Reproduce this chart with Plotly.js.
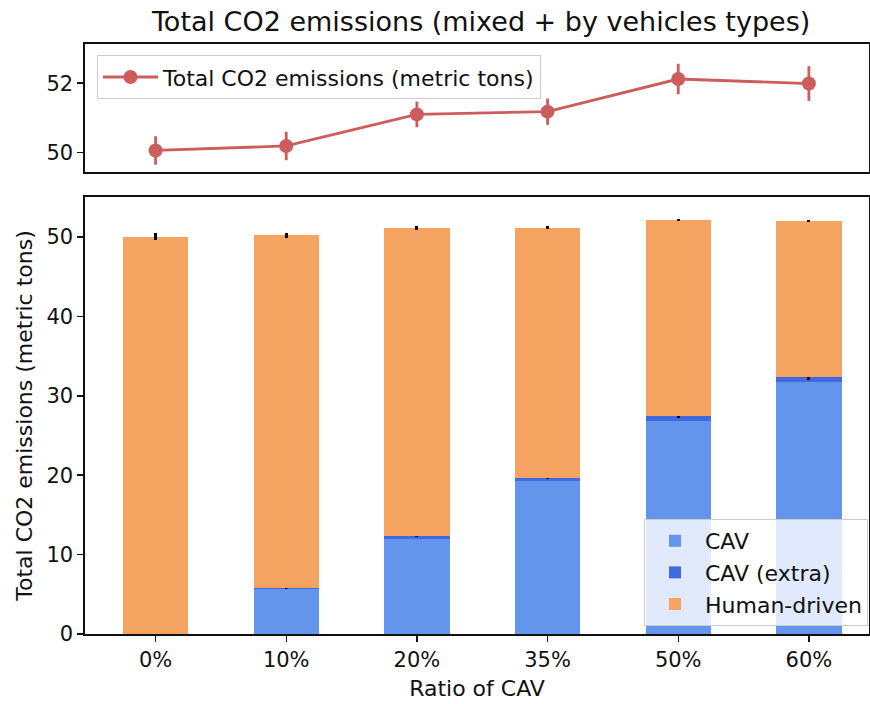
<!DOCTYPE html>
<html>
<head>
<meta charset="utf-8">
<script src="https://cdn.plot.ly/plotly-3.0.1.min.js"></script>
<style>html,body{margin:0;padding:0;background:#fff;}#chart{width:870px;height:704px;}</style>
</head>
<body>
<div id="chart"></div>
<script>
const categories = ["0%", "10%", "20%", "35%", "50%", "60%"];
const totalEmissions = [50.06, 50.19, 51.10, 51.18, 52.12, 51.99];
const totalErr = [0.41, 0.41, 0.37, 0.38, 0.44, 0.50];
const cavValues = [0, 5.72, 12.0, 19.3, 26.83, 31.74];
const cavExtraValues = [0, 0.06, 0.3, 0.34, 0.66, 0.59];
const cavErr = [0, 0.08, 0.12, 0.12, 0.3, 0.38];
const humanValues = [50.06, 44.41, 38.8, 31.54, 24.63, 19.66];
const humanErr = [0.4, 0.3, 0.25, 0.2, 0.15, 0.15];

const FONT = "DejaVu Sans, sans-serif";
const TXT = "#111111";

const traces = [
  {
    type: "scatter", mode: "lines+markers",
    x: categories, y: totalEmissions,
    xaxis: "x2", yaxis: "y2",
    name: "Total CO2 emissions (metric tons)",
    line: {color: "#CD5C5C", width: 2.8},
    marker: {color: "#CD5C5C", size: 14},
    error_y: {type: "data", array: totalErr, color: "#CD5C5C", thickness: 2.8, width: 0},
    legend: "legend"
  },
  {
    type: "bar", x: categories, y: cavValues, name: "CAV",
    marker: {color: "#6495ED"}, width: 0.5,
    xaxis: "x", yaxis: "y", legend: "legend2"
  },
  {
    type: "bar", x: categories, y: cavExtraValues, name: "CAV (extra)",
    marker: {color: "#4169E1"}, width: 0.5,
    error_y: {type: "data", array: cavErr, color: "black", thickness: 3, width: 0},
    xaxis: "x", yaxis: "y", legend: "legend2"
  },
  {
    type: "bar", x: categories, y: humanValues, name: "Human-driven",
    marker: {color: "#F4A460"}, width: 0.5,
    error_y: {type: "data", array: humanErr, color: "black", thickness: 3, width: 0},
    xaxis: "x", yaxis: "y", legend: "legend2"
  }
];

const axisCommon = {
  showline: true, mirror: true, linecolor: TXT, linewidth: 1.6,
  showgrid: false, zeroline: false,
  ticks: "outside", ticklen: 6, tickwidth: 1.4, tickcolor: TXT,
  tickfont: {family: FONT, size: 21, color: TXT}
};

const layout = {
  width: 870, height: 704,
  paper_bgcolor: "#fff", plot_bgcolor: "#fff",
  margin: {l: 85, r: 1, t: 44, b: 70},
  barmode: "stack",
  font: {family: FONT, color: TXT},
  title: {text: "Total CO2 emissions (mixed + by vehicles types)", font: {family: FONT, size: 27, color: TXT}, x: 0.553, xanchor: "center", y: 0.970, yanchor: "middle"},
  xaxis: Object.assign({}, axisCommon, {
    type: "category", range: [-0.54, 5.46], domain: [0, 1], anchor: "y",
    title: {text: "Ratio of CAV", font: {family: FONT, size: 22, color: TXT}, standoff: 10}
  }),
  yaxis: Object.assign({}, axisCommon, {
    domain: [0, 0.7407], range: [0, 55.04], dtick: 10, anchor: "x",
    title: {text: "Total CO2 emissions (metric tons)", font: {family: FONT, size: 22, color: TXT}, standoff: 8}
  }),
  xaxis2: Object.assign({}, axisCommon, {
    type: "category", range: [-0.54, 5.46], domain: [0, 1], anchor: "y2",
    showticklabels: false, ticks: ""
  }),
  yaxis2: Object.assign({}, axisCommon, {
    domain: [0.7831, 1], range: [49.44, 53.13], tickvals: [50, 52], anchor: "x2"
  }),
  legend: {
    x: 0.0153, y: 0.981, xanchor: "left", yanchor: "top",
    bgcolor: "rgba(255,255,255,0.8)", bordercolor: "#cccccc", borderwidth: 1,
    font: {family: FONT, size: 22, color: TXT}, itemwidth: 55
  },
  legend2: {
    x: 0.9987, y: 0.0136, xanchor: "right", yanchor: "bottom",
    bgcolor: "rgba(255,255,255,0.8)", bordercolor: "#cccccc", borderwidth: 1,
    font: {family: FONT, size: 22, color: TXT}, traceorder: "normal", itemwidth: 50
  },
  showlegend: true
};

Plotly.newPlot("chart", traces, layout, {staticPlot: true, displayModeBar: false});
</script>
</body>
</html>
